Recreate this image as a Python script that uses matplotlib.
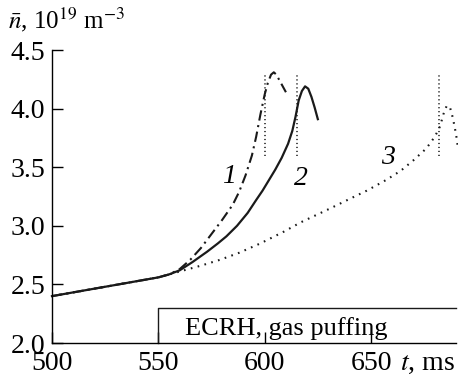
import numpy as np
import matplotlib.pyplot as plt

plt.rcParams['font.family'] = ['Liberation Serif', 'DejaVu Serif']
plt.rcParams['mathtext.fontset'] = 'stix'

# line-averaged density, 10^19 m^-3, vs time in ms
t1 = [500, 525, 550, 555, 560, 565, 570, 575, 580, 585, 588, 591, 594, 596, 598,
      600, 601.5, 603, 604.3, 605.5, 607, 608.5, 610]
n1 = [2.40, 2.48, 2.56, 2.585, 2.63, 2.71, 2.81, 2.93, 3.05, 3.18, 3.29, 3.43, 3.60, 3.76, 3.95,
      4.12, 4.22, 4.29, 4.31, 4.29, 4.24, 4.19, 4.14]

t2 = [500, 525, 550, 555, 560, 566, 573, 578, 582, 587, 592, 596, 599, 602, 605, 608,
      611, 613, 614.5, 616, 617.5, 619, 620.5, 622, 623.5, 625]
n2 = [2.40, 2.48, 2.56, 2.585, 2.62, 2.69, 2.78, 2.85, 2.91, 3.00, 3.11, 3.22, 3.30, 3.39, 3.48, 3.58,
      3.70, 3.81, 3.93, 4.07, 4.15, 4.19, 4.17, 4.10, 4.01, 3.91]

t3 = [500, 525, 550, 555, 560, 570, 579, 588, 598, 609, 617, 631, 640, 648, 657, 664,
      670, 676, 680, 682.5, 684, 685.5, 687, 688.5, 690, 691]
n3 = [2.40, 2.48, 2.56, 2.585, 2.61, 2.66, 2.71, 2.77, 2.85, 2.95, 3.03, 3.15, 3.23, 3.30, 3.39, 3.47,
      3.56, 3.66, 3.76, 3.85, 3.95, 4.02, 4.02, 3.92, 3.78, 3.65]

# markers of the disruption moments
t_mark = [600, 615, 682]
n_mark = (3.60, 4.30)

# ECRH / gas puffing window
t_on, t_off, box_h = 550, 690, 2.30

fig = plt.figure(figsize=(4.58, 3.81), dpi=100)
ax = fig.add_axes([0.1135, 0.0997, 0.8823, 0.769])

ax.plot(t1, n1, color='#1a1a1a', lw=1.5, linestyle=(0, (5, 2.2, 1, 2.2)), clip_on=False)
ax.plot(t2, n2, color='#1a1a1a', lw=1.6, clip_on=False)
ax.plot(t3, n3, color='#1a1a1a', lw=1.5, linestyle=(0, (0.8, 2.6)), clip_on=False)

for tm in t_mark:
    ax.plot([tm, tm], n_mark, color='#1a1a1a', lw=1.1, linestyle=(0, (0.8, 1.8)))

ax.plot([t_on, t_on, t_off], [2.0, box_h, box_h], color='#1a1a1a', lw=1.0, clip_on=False)
ax.text(610, 2.07, 'ECRH, gas puffing', fontsize=19, ha='center', va='baseline')

ax.text(583.3, 3.42, '1', fontsize=20, style='italic', ha='center', va='center')
ax.text(617, 3.40, '2', fontsize=20, style='italic', ha='center', va='center')
ax.text(658, 3.58, '3', fontsize=20, style='italic', ha='center', va='center')

ax.set_xlim(500, 690)
ax.set_ylim(2.0, 4.5)
ax.set_xticks([500, 550, 600, 650])
ax.set_yticks([2.0, 2.5, 3.0, 3.5, 4.0, 4.5])
ax.set_yticklabels(['2.0', '2.5', '3.0', '3.5', '4.0', '4.5'])
ax.tick_params(direction='in', length=8, width=1.0, labelsize=20)
ax.tick_params(axis='y', pad=5)
ax.tick_params(axis='x', pad=6)
for side in ['top', 'right']:
    ax.spines[side].set_visible(False)
for side in ['left', 'bottom']:
    ax.spines[side].set_linewidth(1.0)

fig.text(400 / 458, 1 - 370 / 381, '$t$, ms', fontsize=20, ha='left', va='baseline')
fig.text(8 / 458, 1 - 28 / 381, r'$\bar{n}$, 10$^{19}$ m$^{-3}$', fontsize=18,
         ha='left', va='baseline')

fig.savefig('out.png', dpi=100)
